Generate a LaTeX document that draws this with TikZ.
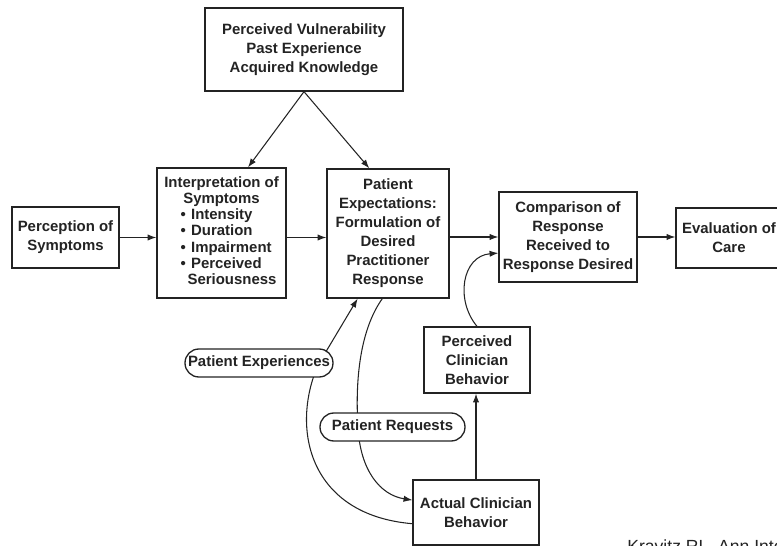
\documentclass[tikz,border=0pt]{standalone}
\usepackage{fontspec}
\setmainfont{Liberation Sans}
\usepackage{xcolor}
\usetikzlibrary{arrows.meta,calc}
\definecolor{ink}{RGB}{35,35,35}

\begin{document}
\begin{tikzpicture}[
    x=0.02cm, y=-0.02cm,
    box/.style={draw=ink,line width=0.75pt,inner sep=1pt,align=center,
      font={\fontsize{8.5}{10.8}\selectfont\bfseries},text=ink},
    pill/.style={box,fill=white,rounded corners=7.9pt,minimum height=0.56cm},
    arrow/.style={-{Latex[length=5pt,width=3.6pt]},line width=0.6pt,ink},
  ]
  \useasboundingbox (0,0) rectangle (777,546);
  \clip (0,0) rectangle (777,546);

  % antecedents
  \node[box,minimum width=3.96cm,minimum height=1.66cm] (vuln) at (304,49.5)
    {Perceived Vulnerability\\Past Experience\\Acquired Knowledge};

  % main chain
  \node[box,minimum width=2.14cm,minimum height=1.22cm] (perc) at (65.5,237.5)
    {Perception of\\Symptoms};
  \node[box,minimum width=2.58cm,minimum height=2.6cm,
    font={\fontsize{8.5}{9.2}\selectfont\bfseries}] (interp) at (221.5,233)
    {Interpretation of\\Symptoms\\
     \hspace*{8pt}\begin{tabular}[t]{@{}c@{\hspace{3pt}}l@{}}
       \textbullet & Intensity\\
       \textbullet & Duration\\
       \textbullet & Impairment\\
       \textbullet & Perceived\\
       & \hspace{-2pt}Seriousness
     \end{tabular}};
  \node[box,minimum width=2.44cm,minimum height=2.58cm] (expect) at (388,233.5)
    {Patient\\Expectations:\\Formulation of\\Desired\\Practitioner\\Response};
  \node[box,minimum width=2.76cm,minimum height=1.8cm] (compar) at (568,237)
    {Comparison of\\Response\\Received to\\Response Desired};
  \node[box,minimum width=2.12cm,minimum height=1.2cm] (evalc) at (729,238)
    {Evaluation of\\Care};

  % clinician side
  \node[box,minimum width=2.12cm,minimum height=1.32cm] (percv) at (477,360)
    {Perceived\\Clinician\\Behavior};
  \node[box,minimum width=2.52cm,minimum height=1.3cm] (actual) at (476,512.5)
    {Actual Clinician\\Behavior};

  % arrows
  \draw[arrow] (vuln.south) -- (interp.68);
  \draw[arrow] (vuln.south) -- (expect.106);
  \draw[arrow] (perc.east) -- (perc.east -| interp.west);
  \draw[arrow] (interp.east |- perc.east) -- (expect.west |- perc.east);
  \draw[arrow] (expect.east |- compar.west) -- (compar.west);
  \draw[arrow] (compar.east) -- (compar.east -| evalc.west);
  \draw[arrow] (actual.north) -- (actual.north |- percv.south);
  \draw[arrow] (percv.north) .. controls (455,300) and (462,256) .. (compar.193);

  % feedback loops
  \draw[arrow] (actual.190) .. controls (310,515) and (290,430) .. (318,365)
    -- (expect.245);
  \draw[arrow] (expect.265) .. controls (360,330) and (355,380) .. (358,427)
    .. controls (360,470) and (380,495) .. (actual.169);

  \node[pill,minimum width=2.96cm] (pexp) at (259,363) {Patient Experiences};
  \node[pill,minimum width=2.9cm] (preq) at (392.5,427) {Patient Requests};

  % source line, cut at the lower edge
  \node[font={\fontsize{10}{12}\selectfont},text=ink,anchor=base west,
    inner sep=0pt] (cite) at (627,553) {Kravitz RL. Ann Intern Med};
\end{tikzpicture}
\end{document}
